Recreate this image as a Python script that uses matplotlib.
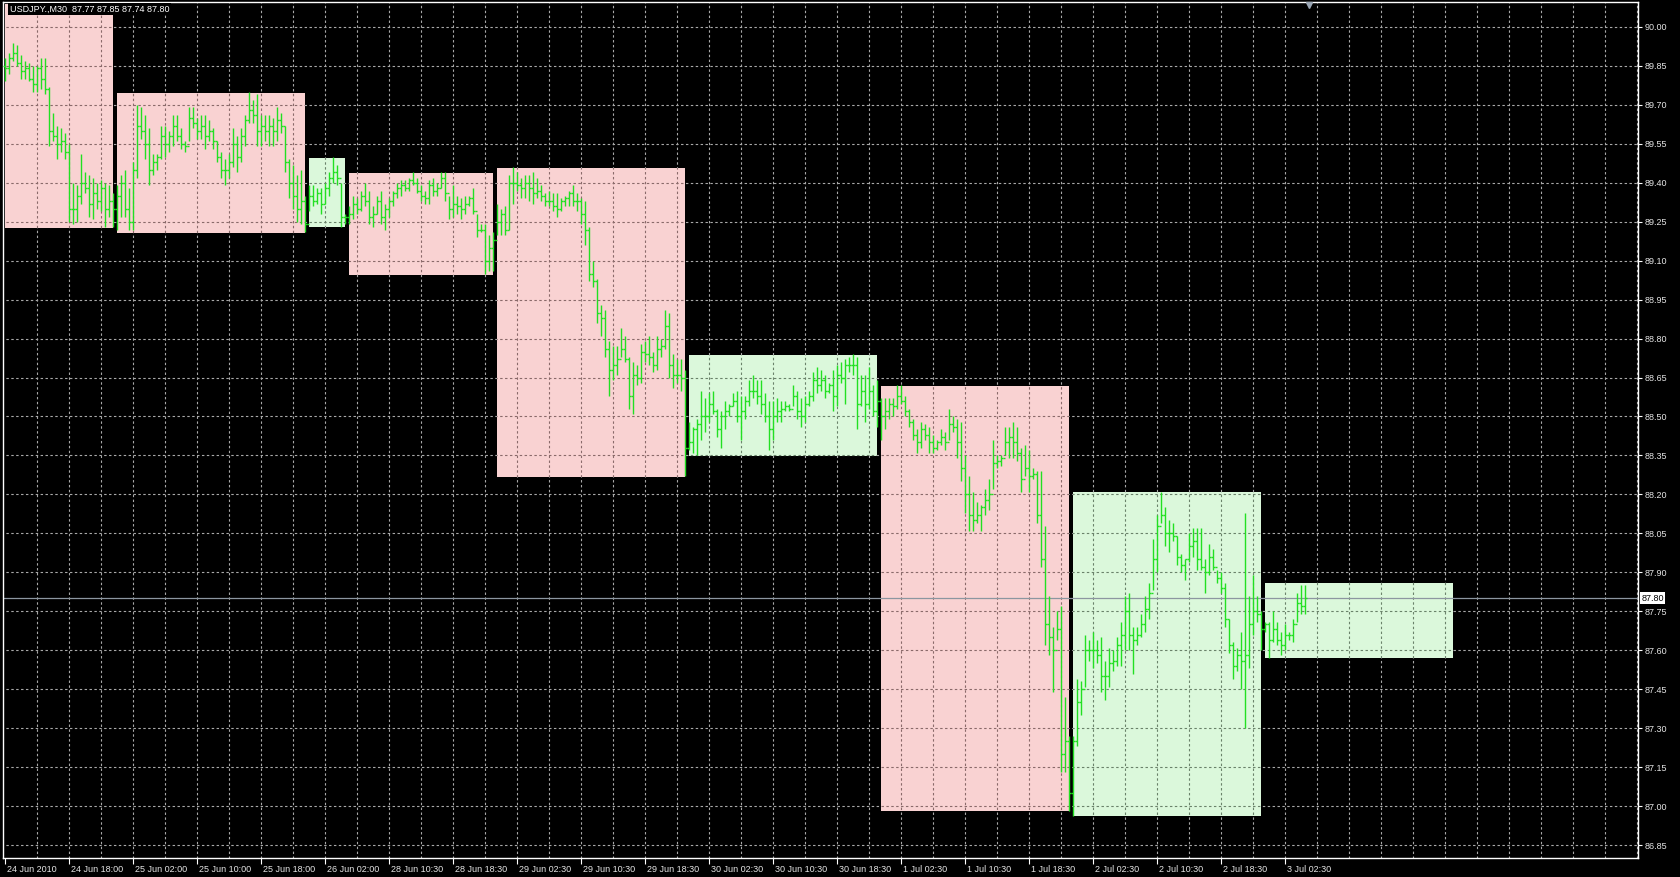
import numpy as np
import matplotlib
matplotlib.use("Agg")
import matplotlib.pyplot as plt
import matplotlib.transforms as mtrans
from matplotlib.patches import Rectangle
from matplotlib.collections import LineCollection

symbol = "USDJPY.,M30"

# M30 bars, first bar = 24 Jun 10:00 ; open = close of previous bar
first_open = 89.85
bar_high = [
    89.88, 89.90, 89.94, 89.93, 89.89, 89.87, 89.86, 89.85, 89.85, 89.88, 89.88, 89.77, 89.67, 89.62,
    89.61, 89.59, 89.55, 89.40, 89.39, 89.51, 89.44, 89.43, 89.42, 89.40, 89.41, 89.40, 89.39, 89.36,
    # 25 Jun
    89.39, 89.43, 89.45, 89.38, 89.48, 89.70, 89.69, 89.66, 89.61, 89.51, 89.51, 89.62, 89.62, 89.60,
    89.66, 89.66, 89.61, 89.56, 89.69, 89.69, 89.65, 89.66, 89.66, 89.64, 89.61, 89.56, 89.52, 89.49,
    89.51, 89.61, 89.58, 89.61, 89.66, 89.75, 89.72, 89.74, 89.66, 89.66, 89.66, 89.65, 89.69, 89.67,
    89.62, 89.49, 89.47, 89.43, 89.45, 89.35,
    # 26 Jun
    89.39, 89.39, 89.38, 89.38, 89.40, 89.44, 89.50, 89.47, 89.40, 89.28,
    # 28 Jun
    89.31, 89.35, 89.34, 89.37, 89.40, 89.37, 89.31, 89.35, 89.37, 89.32, 89.34, 89.37, 89.40, 89.41,
    89.41, 89.42, 89.44, 89.42, 89.39, 89.37, 89.41, 89.42, 89.40, 89.44, 89.44, 89.35, 89.39, 89.35,
    89.34, 89.35, 89.35, 89.38, 89.28, 89.24, 89.24, 89.20, 89.21,
    # 29 Jun
    89.32, 89.30, 89.31, 89.43, 89.46, 89.44, 89.42, 89.43, 89.43, 89.44, 89.42, 89.39, 89.36, 89.37,
    89.36, 89.36, 89.34, 89.35, 89.37, 89.39, 89.36, 89.34, 89.33, 89.23, 89.10, 89.03, 88.93, 88.91,
    88.79, 88.77, 88.77, 88.84, 88.81, 88.73, 88.71, 88.70, 88.78, 88.79, 88.81, 88.75, 88.81, 88.80,
    88.91, 88.90, 88.74, 88.72, 88.72, 88.68,
    # 30 Jun
    88.48, 88.46, 88.49, 88.60, 88.57, 88.59, 88.60, 88.53, 88.52, 88.56, 88.55, 88.59, 88.60, 88.58,
    88.58, 88.64, 88.66, 88.64, 88.64, 88.59, 88.56, 88.56, 88.57, 88.56, 88.56, 88.55, 88.62, 88.60,
    88.57, 88.58, 88.60, 88.67, 88.69, 88.68, 88.66, 88.63, 88.68, 88.70, 88.71, 88.72, 88.73, 88.74,
    88.73, 88.66, 88.66, 88.69, 88.62, 88.64,
    # 1 Jul
    88.57, 88.57, 88.57, 88.57, 88.62, 88.62, 88.58, 88.53, 88.49, 88.45, 88.48, 88.47, 88.46, 88.43,
    88.41, 88.45, 88.44, 88.53, 88.50, 88.49, 88.48, 88.35, 88.27, 88.21, 88.17, 88.16, 88.22, 88.26,
    88.41, 88.35, 88.35, 88.46, 88.46, 88.48, 88.46, 88.38, 88.39, 88.37, 88.30, 88.29, 88.29, 88.08,
    87.81, 87.69, 87.75, 87.77, 87.42, 87.27,
    # 2 Jul
    87.27, 87.49, 87.48, 87.66, 87.64, 87.67, 87.64, 87.65, 87.56, 87.61, 87.60, 87.65, 87.71, 87.81,
    87.82, 87.69, 87.69, 87.74, 87.81, 87.86, 88.03, 88.12, 88.21, 88.15, 88.10, 88.09, 88.04, 87.97,
    87.95, 88.05, 88.07, 88.07, 88.07, 87.95, 88.01, 87.99, 87.91, 87.90, 87.86, 87.72, 87.63, 87.61,
    87.67, 88.13, 87.81, 87.89, 87.81, 87.75,
    # 3 Jul
    87.71, 87.71, 87.75, 87.71, 87.67, 87.70, 87.67, 87.72, 87.82, 87.85, 87.85,
]
bar_low = [
    89.79, 89.82, 89.87, 89.85, 89.80, 89.80, 89.79, 89.75, 89.75, 89.76, 89.74, 89.54, 89.56, 89.49,
    89.52, 89.49, 89.25, 89.24, 89.25, 89.32, 89.36, 89.27, 89.26, 89.30, 89.29, 89.23, 89.27, 89.23,
    89.22, 89.27, 89.27, 89.22, 89.22, 89.42, 89.57, 89.49, 89.39, 89.43, 89.45, 89.49, 89.50, 89.52,
    89.54, 89.56, 89.53, 89.52, 89.56, 89.61, 89.57, 89.57, 89.53, 89.56, 89.53, 89.48, 89.42, 89.39,
    89.42, 89.46, 89.44, 89.48, 89.54, 89.63, 89.63, 89.54, 89.54, 89.56, 89.54, 89.54, 89.56, 89.59,
    89.44, 89.34, 89.30, 89.25, 89.24, 89.21,
    89.29, 89.31, 89.32, 89.28, 89.32, 89.35, 89.40, 89.39, 89.23, 89.24,
    89.24, 89.26, 89.28, 89.29, 89.31, 89.24, 89.23, 89.28, 89.24, 89.22, 89.27, 89.31, 89.34, 89.35,
    89.37, 89.37, 89.39, 89.36, 89.33, 89.32, 89.32, 89.35, 89.35, 89.38, 89.33, 89.26, 89.27, 89.28,
    89.26, 89.28, 89.31, 89.28, 89.19, 89.21, 89.05, 89.06, 89.06,
    89.20, 89.20, 89.20, 89.22, 89.32, 89.37, 89.34, 89.34, 89.33, 89.32, 89.34, 89.33, 89.31, 89.31,
    89.29, 89.27, 89.29, 89.31, 89.31, 89.31, 89.29, 89.24, 89.16, 89.02, 89.00, 88.86, 88.81, 88.73,
    88.58, 88.64, 88.66, 88.73, 88.71, 88.53, 88.51, 88.62, 88.63, 88.71, 88.70, 88.67, 88.68, 88.73,
    88.76, 88.65, 88.61, 88.63, 88.60, 88.27,
    88.37, 88.36, 88.35, 88.41, 88.44, 88.48, 88.51, 88.42, 88.38, 88.45, 88.50, 88.54, 88.48, 88.41,
    88.49, 88.54, 88.57, 88.55, 88.51, 88.48, 88.37, 88.41, 88.48, 88.48, 88.52, 88.52, 88.54, 88.49,
    88.46, 88.48, 88.54, 88.56, 88.59, 88.60, 88.57, 88.59, 88.52, 88.54, 88.63, 88.55, 88.67, 88.66,
    88.45, 88.54, 88.48, 88.53, 88.50, 88.46,
    88.41, 88.45, 88.49, 88.50, 88.53, 88.55, 88.50, 88.46, 88.41, 88.36, 88.38, 88.41, 88.36, 88.36,
    88.37, 88.39, 88.37, 88.41, 88.44, 88.34, 88.25, 88.13, 88.06, 88.06, 88.09, 88.06, 88.12, 88.14,
    88.22, 88.30, 88.31, 88.35, 88.34, 88.34, 88.33, 88.21, 88.27, 88.21, 88.26, 88.09, 87.92, 87.62,
    87.58, 87.44, 87.64, 87.13, 87.13, 86.98,
    86.96, 87.23, 87.35, 87.46, 87.56, 87.53, 87.55, 87.44, 87.41, 87.46, 87.52, 87.54, 87.54, 87.60,
    87.60, 87.51, 87.62, 87.65, 87.67, 87.72, 87.83, 87.90, 88.09, 88.00, 87.98, 88.02, 87.93, 87.90,
    87.87, 87.94, 87.96, 87.91, 87.91, 87.82, 87.89, 87.91, 87.86, 87.82, 87.69, 87.59, 87.49, 87.52,
    87.45, 87.30, 87.53, 87.66, 87.71, 87.60,
    87.67, 87.57, 87.63, 87.62, 87.58, 87.60, 87.64, 87.63, 87.71, 87.74, 87.74,
]
bar_close = [
    89.84, 89.88, 89.90, 89.86, 89.83, 89.84, 89.80, 89.78, 89.84, 89.80, 89.76, 89.60, 89.58, 89.55,
    89.56, 89.52, 89.30, 89.30, 89.35, 89.40, 89.38, 89.32, 89.36, 89.33, 89.38, 89.30, 89.33, 89.30,
    89.35, 89.40, 89.30, 89.25, 89.45, 89.62, 89.60, 89.55, 89.45, 89.48, 89.50, 89.58, 89.55, 89.58,
    89.62, 89.58, 89.55, 89.54, 89.65, 89.63, 89.60, 89.62, 89.58, 89.60, 89.56, 89.50, 89.45, 89.45,
    89.48, 89.55, 89.50, 89.58, 89.64, 89.68, 89.66, 89.60, 89.62, 89.60, 89.62, 89.60, 89.64, 89.62,
    89.48, 89.40, 89.35, 89.30, 89.33, 89.24,
    89.35, 89.33, 89.36, 89.32, 89.38, 89.42, 89.44, 89.42, 89.27, 89.27,
    89.28, 89.32, 89.30, 89.35, 89.33, 89.27, 89.28, 89.33, 89.27, 89.30, 89.33, 89.36, 89.38, 89.39,
    89.38, 89.41, 89.40, 89.37, 89.35, 89.34, 89.39, 89.37, 89.38, 89.42, 89.36, 89.30, 89.32, 89.31,
    89.30, 89.32, 89.34, 89.29, 89.22, 89.22, 89.10, 89.15, 89.18,
    89.25, 89.28, 89.22, 89.40, 89.40, 89.39, 89.38, 89.40, 89.38, 89.36, 89.37, 89.35, 89.33, 89.33,
    89.31, 89.30, 89.33, 89.34, 89.36, 89.33, 89.33, 89.28, 89.22, 89.05, 89.02, 88.90, 88.88, 88.76,
    88.68, 88.70, 88.72, 88.76, 88.72, 88.58, 88.66, 88.65, 88.75, 88.74, 88.73, 88.70, 88.76, 88.77,
    88.85, 88.70, 88.66, 88.66, 88.65, 88.38,
    88.40, 88.45, 88.47, 88.50, 88.50, 88.55, 88.52, 88.45, 88.50, 88.52, 88.54, 88.56, 88.50, 88.52,
    88.56, 88.60, 88.60, 88.58, 88.55, 88.50, 88.45, 88.50, 88.52, 88.53, 88.54, 88.53, 88.58, 88.52,
    88.50, 88.55, 88.58, 88.64, 88.62, 88.64, 88.60, 88.62, 88.58, 88.66, 88.65, 88.70, 88.70, 88.70,
    88.55, 88.60, 88.55, 88.60, 88.52, 88.56,
    88.50, 88.52, 88.55, 88.54, 88.58, 88.56, 88.52, 88.48, 88.43, 88.40, 88.45, 88.43, 88.40, 88.38,
    88.40, 88.42, 88.40, 88.47, 88.46, 88.40, 88.30, 88.20, 88.12, 88.10, 88.12, 88.15, 88.18, 88.20,
    88.32, 88.33, 88.34, 88.40, 88.42, 88.40, 88.36, 88.26, 88.30, 88.27, 88.28, 88.12, 87.95, 87.70,
    87.65, 87.60, 87.68, 87.20, 87.25, 87.05,
    87.25, 87.40, 87.45, 87.60, 87.60, 87.60, 87.58, 87.50, 87.50, 87.55, 87.56, 87.62, 87.66, 87.75,
    87.66, 87.64, 87.66, 87.70, 87.76, 87.82, 87.95, 88.08, 88.12, 88.05, 88.05, 88.04, 87.96, 87.93,
    87.95, 88.00, 88.02, 87.95, 87.92, 87.90, 87.96, 87.92, 87.88, 87.84, 87.72, 87.62, 87.54, 87.58,
    87.56, 87.58, 87.70, 87.75, 87.74, 87.68,
    87.70, 87.64, 87.68, 87.64, 87.62, 87.66, 87.66, 87.70, 87.78, 87.77, 87.80,
]

# 每日区间框 (bar index)
day_start = [0, 28, 76, 86, 123, 171, 219, 267, 315]
day_end = [27, 75, 85, 122, 170, 218, 266, 314, 362]
day_high = [90.09, 89.745, 89.495, 89.437, 89.456, 88.737, 88.619, 88.208, 87.858]
day_low = [89.227, 89.208, 89.228, 89.045, 88.268, 88.348, 86.982, 86.963, 87.572]
day_trend = ["down", "down", "up", "down", "down", "up", "down", "up", "up"]

time_labels = ["24 Jun 2010", "24 Jun 18:00", "25 Jun 02:00", "25 Jun 10:00", "25 Jun 18:00",
               "26 Jun 02:00", "28 Jun 10:30", "28 Jun 18:30", "29 Jun 02:30", "29 Jun 10:30",
               "29 Jun 18:30", "30 Jun 02:30", "30 Jun 10:30", "30 Jun 18:30", "1 Jul 02:30",
               "1 Jul 10:30", "1 Jul 18:30", "2 Jul 02:30", "2 Jul 10:30", "2 Jul 18:30",
               "3 Jul 02:30"]

bid = 87.80

high = np.array(bar_high)
low = np.array(bar_low)
close = np.array(bar_close)
opn = np.concatenate([[first_open], close[:-1]])
x = np.arange(len(high))

plt.rcParams['font.family'] = ['Liberation Sans', 'DejaVu Sans']

fig = plt.figure(figsize=(16.8, 8.77), dpi=100, facecolor='black')
ax = fig.add_axes([3 / 1680, 19 / 877, 1635 / 1680, 856 / 877])
ax.set_facecolor('black')
ax.set_xlim(-0.575, 408.2)
ax.set_ylim(86.80, 90.096)

# 网格
price_ticks = np.round(np.arange(86.85, 90.01, 0.15), 2)
grid_x = np.arange(8, 409, 8)
segs = [[(-1, p), (409, p)] for p in price_ticks] + [[(g, 86.0), (g, 91.0)] for g in grid_x]
ax.add_collection(LineCollection(segs, colors='#a8a8a8', linewidths=0.8,
                                 linestyles=(0, (2.2, 2.2)), zorder=0.5))

# 每日区间框
for s, e, hi, lo, t in zip(day_start, day_end, day_high, day_low, day_trend):
    fc = '#f9d2d2' if t == "down" else '#dbf8db'
    gc = '#8a6a6a' if t == "down" else '#6a826a'
    r = Rectangle((s, lo), e - s, hi - lo, facecolor=fc, edgecolor='none', zorder=1)
    ax.add_patch(r)
    lc = LineCollection(segs, colors=gc, linewidths=0.8, linestyles=(0, (2.2, 2.2)), zorder=1.5)
    ax.add_collection(lc)
    lc.set_clip_path(r)

ax.axhline(bid, color='#8c96a0', lw=0.9, zorder=2)

# bars
bar_col = '#22e022'
ax.vlines(x, low, high, color=bar_col, lw=1.0, zorder=3)
ax.hlines(opn, x - 0.45, x, color=bar_col, lw=1.0, zorder=3)
ax.hlines(close, x, x + 0.45, color=bar_col, lw=1.0, zorder=3)

for sp in ax.spines.values():
    sp.set_color('white')
    sp.set_linewidth(1)

ax.yaxis.tick_right()
ax.set_yticks(price_ticks)
ax.set_yticklabels([f"{p:.2f}" for p in price_ticks])
ax.set_xticks(np.arange(len(time_labels)) * 16)
ax.set_xticklabels(time_labels)
ax.tick_params(axis='both', colors='white', labelcolor='#e6e6e6', labelsize=6.5,
               length=3, width=0.8, direction='out')
ax.tick_params(axis='y', pad=2)
ax.tick_params(axis='x', length=4, pad=1)
off = mtrans.ScaledTranslation(1.5 / 100, 0, fig.dpi_scale_trans)
for lbl in ax.get_xticklabels():
    lbl.set_ha('left')
    lbl.set_transform(lbl.get_transform() + off)

# 当前价
tr = mtrans.blended_transform_factory(ax.transAxes, ax.transData)
ax.text(1.002, bid, f"{bid:.2f}", transform=tr, color='black', fontsize=6.5,
        ha='left', va='center', clip_on=False, zorder=5,
        bbox=dict(boxstyle='square,pad=0.15', facecolor='white', edgecolor='none'))

# chart shift marker
ax.plot([len(high)], [ax.get_ylim()[1] - 0.012], marker='v', ms=5, color='#9aa6b4',
        clip_on=False, zorder=5)

header = f"{symbol}  {opn[-1]:.2f} {high[-1]:.2f} {low[-1]:.2f} {close[-1]:.2f}"
fig.text(10 / 1680, 1 - 9 / 877, header, color='white', fontsize=6.5, ha='left', va='center',
         bbox=dict(boxstyle='square,pad=0.2', facecolor='black', edgecolor='none'))

fig.savefig('out.png', dpi=100, facecolor='black')
